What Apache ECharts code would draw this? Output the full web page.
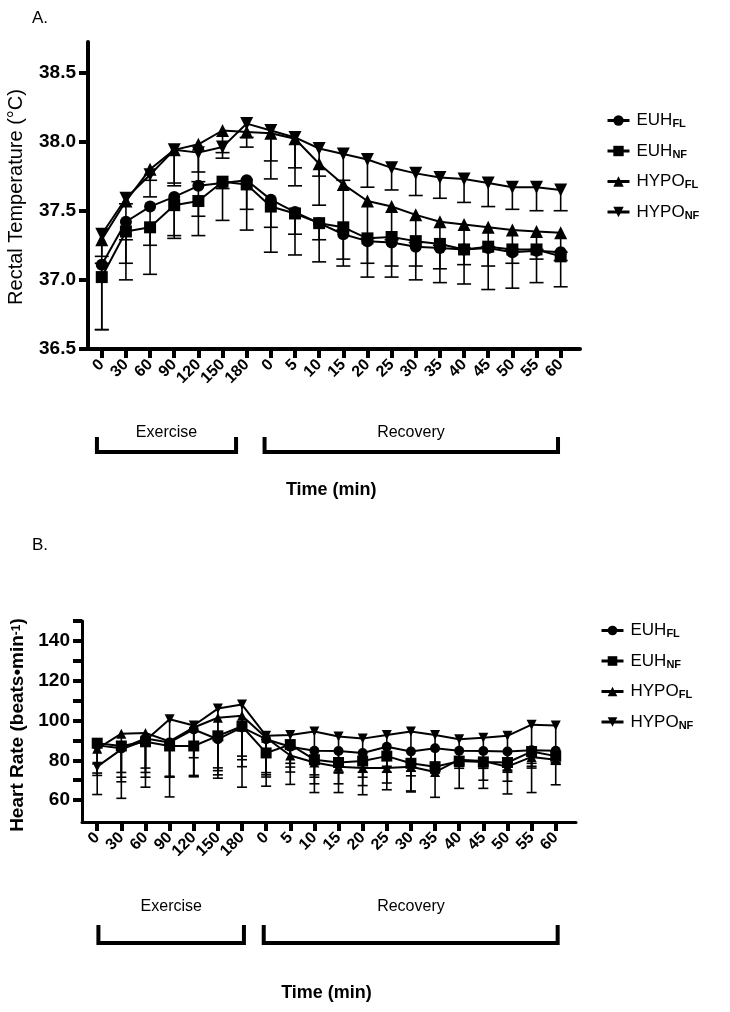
<!DOCTYPE html>
<html><head><meta charset="utf-8">
<script src="https://cdn.jsdelivr.net/npm/echarts@6/dist/echarts.min.js"></script>
<style>html,body{margin:0;padding:0;background:#fff}#c{width:730px;height:1012px}</style>
</head><body><div id="c"></div>
<script>
// ---------- data ----------
const timeLabels = ['0','30','60','90','120','150','180','0','5','10','15','20','25','30','35','40','45','50','55','60'];
const groupNames = ['EUH|FL','EUH|NF','HYPO|FL','HYPO|NF'];

// Panel A: rectal temperature (°C), mean and SD (error bars drawn downward)
const tempEuhFl   = [37.11,37.42,37.53,37.60,37.68,37.70,37.72,37.58,37.49,37.41,37.33,37.28,37.27,37.24,37.23,37.22,37.23,37.20,37.21,37.20];
const tempEuhFlSd = [0.47,0.30,0.28,0.28,0.22,0.04,0.21,0.20,0.16,0.12,0.23,0.26,0.25,0.24,0.25,0.25,0.30,0.26,0.23,0.25];
const tempEuhNf   = [37.02,37.35,37.38,37.54,37.57,37.71,37.69,37.53,37.48,37.41,37.38,37.30,37.31,37.28,37.26,37.22,37.24,37.22,37.22,37.17];
const tempEuhNfSd = [0.38,0.35,0.34,0.24,0.25,0.28,0.33,0.33,0.30,0.28,0.23,0.18,0.21,0.18,0.18,0.11,0.14,0.10,0.07,0.03];
const tempHypoFl   = [37.29,37.57,37.80,37.94,37.98,38.08,38.07,38.06,38.02,37.84,37.69,37.57,37.53,37.47,37.42,37.40,37.38,37.36,37.35,37.34];
const tempHypoFlSd = [0.12,0.28,0.20,0.24,0.20,0.20,0.04,0.33,0.34,0.30,0.33,0.27,0.24,0.20,0.17,0.17,0.14,0.14,0.13,0.14];
const tempHypoNf   = [37.33,37.59,37.76,37.94,37.92,37.96,38.13,38.08,38.03,37.95,37.91,37.87,37.81,37.77,37.74,37.73,37.70,37.67,37.67,37.65];
const tempHypoNfSd = [0.21,0.04,0.04,0.26,0.21,0.04,0.17,0.22,0.22,0.20,0.19,0.20,0.16,0.16,0.15,0.17,0.17,0.16,0.17,0.15];

// Panel B: heart rate (beats/min), mean and SD
const hrEuhFl   = [87.5,86.0,91.0,89.0,95.5,90.6,96.5,90.6,86.8,84.8,84.7,83.7,86.8,84.4,86.1,84.8,84.7,84.4,85.1,84.8];
const hrEuhFlSd = [13.9,16.8,17.1,17.5,23.1,14.4,14.4,17.9,10.2,16.6,16.5,16.4,18.2,19.8,11.1,6.8,14.7,14.9,9.0,5.8];
const hrEuhNf   = [88.6,87.2,89.3,87.2,87.2,92.3,97.1,83.7,87.9,80.3,78.9,79.6,82.1,78.5,76.8,79.6,79.2,78.9,84.4,82.1];
const hrEuhNfSd = [16.2,15.7,17.8,15.5,5.9,17.5,16.8,9.9,13.8,8.8,5.3,8.1,5.1,6.3,2.8,3.6,3.2,3.9,5.9,3.9];
const hrHypoFl   = [85.8,93.4,93.7,89.5,96.5,101.4,102.4,91.3,82.4,78.9,76.8,76.1,76.1,76.8,74.1,80.3,79.6,76.8,81.7,80.3];
const hrHypoFlSd = [7.6,19.5,17.6,17.5,24.8,28.7,25.6,19.7,3.9,6.2,2.8,2.1,2.1,2.3,12.7,3.3,3.6,2.8,4.7,2.3];
const hrHypoNf   = [76.8,85.5,90.0,100.6,97.5,106.0,108.0,92.3,92.7,94.5,92.0,90.9,92.7,94.5,92.7,90.6,91.3,92.3,97.9,97.5];
const hrHypoNfSd = [14.0,24.6,23.5,39.0,25.5,35.0,41.5,25.3,24.8,30.7,28.2,28.2,27.5,30.4,19.1,24.7,25.4,29.2,34.1,29.8];

const tempTicks = [36.5,37.0,37.5,38.0,38.5];
const hrTicks = [60,70,80,90,100,110,120,130,140,150];
const hrTickLabels = [60,80,100,120,140];

// ---------- chart ----------
const FONT = '"Liberation Sans", Arial, Helvetica, sans-serif';
const chart = echarts.init(document.getElementById('c'), null, {renderer: 'canvas'});
const idx = timeLabels.map((_, i) => i);
const symbols = ['circle','rect','triangle','triangle'];
const rotations = [0,0,0,180];

const panels = [
  {means:[tempEuhFl,tempEuhNf,tempHypoFl,tempHypoNf], sds:[tempEuhFlSd,tempEuhNfSd,tempHypoFlSd,tempHypoNfSd],
   sym:[12,12,13,13], cap:7, errW:1.6, lineW:2},
  {means:[hrEuhFl,hrEuhNf,hrHypoFl,hrHypoNf], sds:[hrEuhFlSd,hrEuhNfSd,hrHypoFlSd,hrHypoNfSd],
   sym:[10,11,10,10], cap:5, errW:1.6, lineW:2}
];

const series = [];
panels.forEach((p, g) => {
  p.means.forEach((m, k) => {
    const sd = p.sds[k];
    series.push({
      type:'custom', xAxisIndex:g, yAxisIndex:g, z:1, silent:true, animation:false,
      data: m.map((v, i) => [i, v, +(v - sd[i]).toFixed(3)]),
      encode:{x:0, y:[1,2]},
      renderItem(params, api) {
        const a = api.coord([api.value(0), api.value(1)]);
        const b = api.coord([api.value(0), api.value(2)]);
        const st = {stroke:'#000', lineWidth:p.errW};
        return {type:'group', children:[
          {type:'line', shape:{x1:a[0], y1:a[1], x2:b[0], y2:b[1]}, style:st},
          {type:'line', shape:{x1:b[0]-p.cap, y1:b[1], x2:b[0]+p.cap, y2:b[1]}, style:st}
        ]};
      }
    });
  });
  p.means.forEach((m, k) => {
    series.push({
      type:'line', name: groupNames[k] + '|' + g, xAxisIndex:g, yAxisIndex:g, z:3, animation:false,
      data: m.map((v, i) => [i, v]),
      symbol: symbols[k], symbolRotate: rotations[k], symbolSize: p.sym[k], showAllSymbol:true,
      lineStyle:{color:'#000', width:p.lineW}, itemStyle:{color:'#000'},
      emphasis:{disabled:true}
    });
  });
});

const axisLab = {color:'#000', fontFamily:FONT, fontWeight:'bold'};
const xAxes = [0,1].map(g => ({
  type:'value', gridIndex:g, min: g ? -0.63 : -0.57, max: g ? 19.84 : 19.8,
  axisLine:{onZero:false, lineStyle:{color:'#000', width: g ? 3 : 4}},
  axisTick:{customValues: idx, length:9, lineStyle:{color:'#000', width:4}},
  axisLabel:Object.assign({customValues: idx, formatter: v => timeLabels[v], rotate:45, fontSize:16, margin:13}, axisLab),
  splitLine:{show:false}
}));
const yAxes = [
  {type:'value', gridIndex:0, min:36.5, max:38.72,
   axisLine:{show:true, onZero:false, lineStyle:{color:'#000', width:4}},
   axisTick:{show:true, customValues: tempTicks, length:9, lineStyle:{color:'#000', width:4}},
   axisLabel:Object.assign({customValues: tempTicks, formatter: v => v.toFixed(1), fontSize:19, margin:12}, axisLab),
   splitLine:{show:false}},
  {type:'value', gridIndex:1, min:49, max:150,
   axisLine:{show:true, onZero:false, lineStyle:{color:'#000', width:3}},
   axisTick:{show:true, customValues: hrTicks, length:9, lineStyle:{color:'#000', width:4}},
   axisLabel:Object.assign({customValues: hrTickLabels, fontSize:19, margin:12}, axisLab),
   splitLine:{show:false}}
];

function legendFor(g, left, top, itemH) {
  return {
    show:true, orient:'vertical', left:left, top:top, padding:0, itemWidth:22, itemHeight:itemH, itemGap:13,
    selectedMode:false,
    data: groupNames.map(n => n + '|' + g),
    lineStyle:{width:3},
    formatter: name => { const s = name.split('|'); return '{m|' + s[0] + '}{s|' + s[1] + '}'; },
    textStyle:{color:'#000', fontFamily:FONT, rich:{
      m:{fontSize:17, lineHeight:18, fontFamily:FONT, color:'#000', padding:[0,0,0,2]},
      s:{fontSize:11, fontWeight:'bold', lineHeight:2, verticalAlign:'bottom', fontFamily:FONT, color:'#000'}
    }}
  };
}

chart.setOption({
  animation:false,
  backgroundColor:'#fff',
  grid:[{left:88, top:42, width:492, height:307}, {left:82, top:621, width:494, height:201}],
  xAxis:xAxes, yAxis:yAxes,
  legend:[legendFor(0, 606, 112, 13), legendFor(1, 600, 622, 12)],
  series:series
});

// ---------- annotations (positions derived from axes) ----------
const X = (g, v) => chart.convertToPixel({xAxisIndex:g}, v);
const brackets = [
  {g:0, ex:[-0.2,5.56], rec:[6.74,18.89], exTxt:2.68, recTxt:12.8, top:437, bot:454, txtY:433, timeY:490},
  {g:1, ex:[0.05,6.08], rec:[6.9,19.08], exTxt:3.07, recTxt:13.0, top:925, bot:945, txtY:907, timeY:993}
];
const gr = [];
brackets.forEach(b => {
  [['ex','exTxt','Exercise'], ['rec','recTxt','Recovery']].forEach(([k, t, label]) => {
    const x1 = X(b.g, b[k][0]), x2 = X(b.g, b[k][1]);
    gr.push({type:'polyline', silent:true, shape:{points:[[x1,b.top],[x1,b.bot-2],[x2,b.bot-2],[x2,b.top]]},
      style:{stroke:'#000', lineWidth:4, fill:null, lineJoin:'miter', lineCap:'butt'}});
    gr.push({type:'text', silent:true, x:X(b.g, b[t]), y:b.txtY,
      style:{text:label, fontSize:16, fontFamily:FONT, fill:'#000', align:'center', verticalAlign:'middle'}});
  });
  const mid = (X(b.g, -0.5) + X(b.g, 19.5)) / 2;
  gr.push({type:'text', silent:true, x:mid, y:b.timeY,
    style:{text:'Time (min)', fontSize:18, fontWeight:'bold', fontFamily:FONT, fill:'#000', align:'center', verticalAlign:'middle'}});
});
gr.push({type:'text', silent:true, x:32, y:18, style:{text:'A.', fontSize:17, fontFamily:FONT, fill:'#000', align:'left', verticalAlign:'middle'}});
gr.push({type:'text', silent:true, x:32, y:545, style:{text:'B.', fontSize:17, fontFamily:FONT, fill:'#000', align:'left', verticalAlign:'middle'}});
gr.push({type:'text', silent:true, x:16, y:197, rotation:Math.PI/2,
  style:{text:'Rectal Temperature (°C)', fontSize:20, fontFamily:FONT, fill:'#000', align:'center', verticalAlign:'middle'}});
gr.push({type:'text', silent:true, x:18, y:725, rotation:Math.PI/2,
  style:{text:'{t|Heart Rate (beats•min}{u|-1}{t|)}', fontFamily:FONT, fill:'#000', align:'center', verticalAlign:'middle',
    rich:{t:{fontSize:19, fontWeight:'bold', lineHeight:15, fontFamily:FONT, fill:'#000'},
          u:{fontSize:12, fontWeight:'bold', lineHeight:2, verticalAlign:'top', fontFamily:FONT, fill:'#000'}}}});
chart.setOption({graphic:gr});
</script></body></html>
